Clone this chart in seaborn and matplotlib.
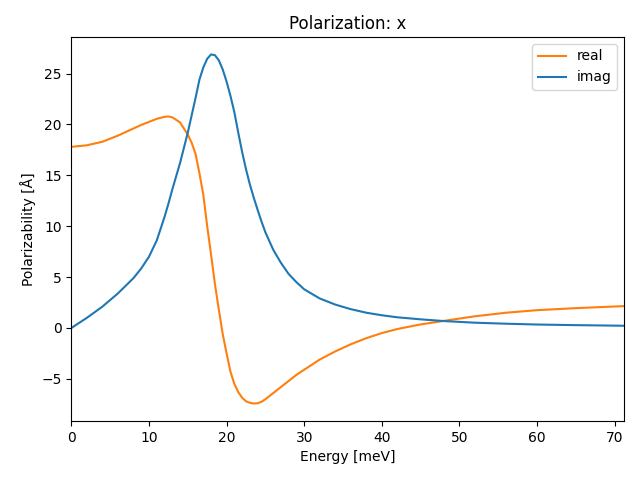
import matplotlib
matplotlib.use("Agg")
import matplotlib.pyplot as plt
import seaborn as sns

energy = [0, 2, 4, 6, 8, 9, 10, 11, 12, 12.5, 13, 14, 15, 15.5, 16, 16.5, 17, 17.5, 18,
          18.5, 19, 19.5, 20, 20.5, 21, 21.5, 22, 22.5, 23, 23.5, 24, 24.5, 25, 26, 27, 28,
          29, 30, 32, 34, 36, 38, 40, 42, 45, 48, 52, 56, 60, 65, 71.2]

real = [17.8, 17.95, 18.3, 18.9, 19.6, 19.95, 20.25, 20.55, 20.75, 20.78, 20.7, 20.2, 19.0,
        18.2, 17.1, 15.2, 13.1, 10.0, 7.2, 4.3, 1.8, -0.6, -2.5, -4.3, -5.5, -6.3,
        -6.85, -7.2, -7.35, -7.42, -7.4, -7.25, -7.0, -6.4, -5.8, -5.2, -4.6, -4.1, -3.1,
        -2.3, -1.6, -1.0, -0.5, -0.1, 0.35, 0.7, 1.15, 1.5, 1.75, 1.95, 2.15]

imag = [0.0, 1.0, 2.1, 3.4, 4.9, 5.85, 7.0, 8.6, 10.9, 12.2, 13.6, 16.2, 19.2, 20.9, 22.6,
        24.4, 25.6, 26.45, 26.88, 26.8, 26.3, 25.4, 24.2, 22.8, 21.2, 19.2, 17.3, 15.6,
        14.1, 12.8, 11.6, 10.45, 9.4, 7.7, 6.4, 5.3, 4.5, 3.8, 2.9, 2.3, 1.85, 1.5, 1.25, 1.05,
        0.85, 0.68, 0.52, 0.42, 0.34, 0.28, 0.22]

fig, ax = plt.subplots(figsize=(6.4, 4.8), dpi=100)
sns.lineplot(x=energy, y=real, color="C1", label="real", ax=ax)
sns.lineplot(x=energy, y=imag, color="C0", label="imag", ax=ax)
ax.set_xlim(0, max(energy))
ax.set_title("Polarization: x")
ax.set_xlabel("Energy [meV]")
ax.set_ylabel("Polarizability [Å]")
ax.legend(loc="upper right")
fig.subplots_adjust(left=0.1115, right=0.975, top=0.923, bottom=0.123)
fig.savefig("out.png", dpi=100)
